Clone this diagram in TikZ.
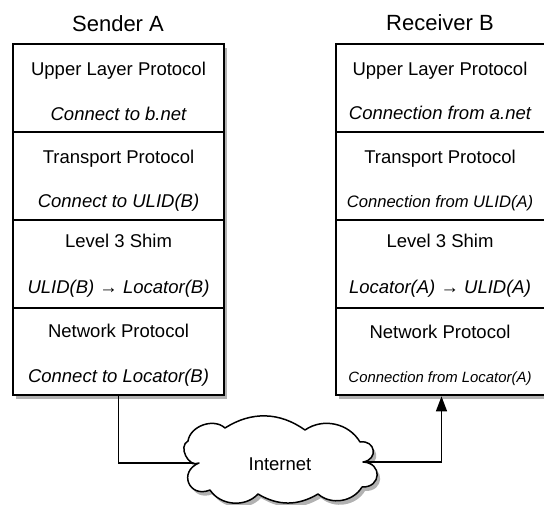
\documentclass[tikz,border=0pt]{standalone}
\usepackage{fontspec}
\setmainfont{Liberation Sans}
\usetikzlibrary{shadows,arrows.meta}
\begin{document}
\begin{tikzpicture}[x=1pt,y=-1pt,
  shad/.style={drop shadow={shadow xshift=3pt, shadow yshift=-4pt, opacity=0.3, fill=black}},
  stackbg/.style={draw, line width=2pt, fill=white, minimum width=211pt, minimum height=351pt, inner sep=0pt, shad},
  layer/.style={draw, line width=2pt, minimum width=211pt, minimum height=87.75pt, inner sep=0pt},
  lbl/.style={anchor=base, inner sep=0pt, font=\fontsize{18.5}{22}\selectfont},
  ilbl/.style={anchor=base, inner sep=0pt, font=\fontsize{18.5}{22}\selectfont\itshape},
  ilblm/.style={anchor=base, inner sep=0pt, font=\fontsize{16.6}{20}\selectfont\itshape},
  ilbls/.style={anchor=base, inner sep=0pt, font=\fontsize{14.9}{18}\selectfont\itshape},
  title/.style={anchor=base, inner sep=0pt, font=\fontsize{22}{26}\selectfont},
  conn/.style={line width=1.5pt},
  cloudline/.style={draw, line width=1.5pt, line join=round, fill=white, shad}]
\useasboundingbox (0,0) rectangle (544,504);

% titles
\node[title] (TA) at (118,31) {Sender A};
\node[title] (TB) at (440,30) {Receiver B};

% sender stack
\node[stackbg] (SA) at (118.5,219.5) {};
\node[layer] (A1) at (118.5,88) {};
\node[layer] (A2) at (118.5,176) {};
\node[layer] (A3) at (118.5,264) {};
\node[layer] (A4) at (118.5,351.5) {};
\node[lbl]  (a1a) at (118.5,75)  {Upper Layer Protocol};
\node[ilbl] (a1b) at (118.5,120) {Connect to b.net};
\node[lbl]  (a2a) at (118.5,163) {Transport Protocol};
\node[ilbl] (a2b) at (118.5,207) {Connect to ULID(B)};
\node[lbl]  (a3a) at (118.5,247) {Level 3 Shim};
\node[ilbl] (a3b) at (118.5,293) {ULID(B) → Locator(B)};
\node[lbl]  (a4a) at (118.5,337) {Network Protocol};
\node[ilbl] (a4b) at (118.5,382) {Connect to Locator(B)};

% receiver stack
\node[stackbg] (SB) at (441.5,219.5) {};
\node[layer] (B1) at (441.5,88) {};
\node[layer] (B2) at (441.5,176) {};
\node[layer] (B3) at (441.5,264) {};
\node[layer] (B4) at (441.5,351.5) {};
\node[lbl]   (b1a) at (440,75)  {Upper Layer Protocol};
\node[ilbl]  (b1b) at (440,119) {Connection from a.net};
\node[lbl]   (b2a) at (440,163) {Transport Protocol};
\node[ilblm] (b2b) at (440,207) {Connection from ULID(A)};
\node[lbl]   (b3a) at (440,247) {Level 3 Shim};
\node[ilbl]  (b3b) at (440,293) {Locator(A) → ULID(A)};
\node[lbl]   (b4a) at (440,338) {Network Protocol};
\node[ilbls] (b4b) at (440,382) {Connection from Locator(A)};

% cloud attachment points
\coordinate (netW) at (199,463);
\coordinate (netE) at (363,462);

% connectors
\draw[conn] (A4.south) |- (netW);
\draw[conn, -{Triangle[length=15pt,width=11pt]}] (netE) -| (B4.south);

% cloud outline
\begin{scope}[y=1pt]
\path[cloudline]
  (199,-463)
  to[bend left=90, looseness=1.2] (188,-441)
  to[bend left=62] (225,-428)
  to[bend left=34] (305,-430)
  to[bend left=47] (360,-442)
  to[bend left=90, looseness=2] (363,-462)
  to[bend left=90, looseness=2] (362,-487)
  to[bend left=50] (318,-494)
  to[bend left=31] (258,-494)
  to[bend left=52] (210,-490)
  to[bend left=90, looseness=2] (199,-463) -- cycle;
\end{scope}
\node[lbl] (net) at (280,470) {Internet};
\end{tikzpicture}
\end{document}
